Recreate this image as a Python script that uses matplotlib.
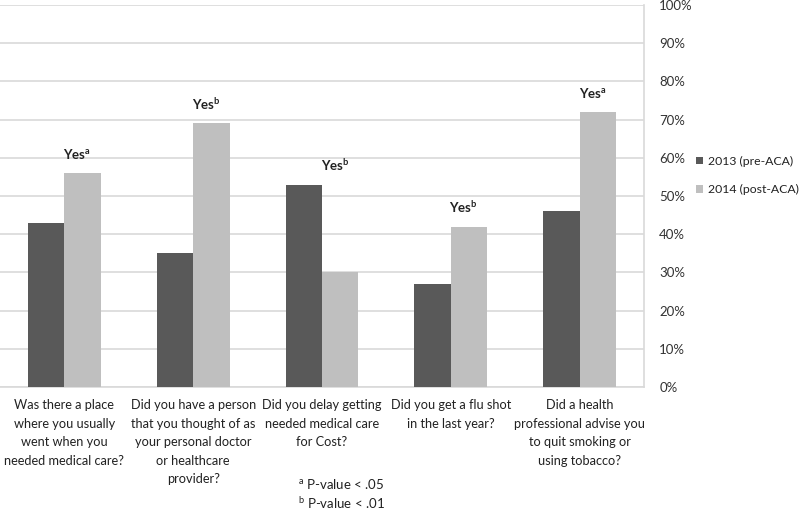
import numpy as np
import matplotlib
matplotlib.use("Agg")
import matplotlib.pyplot as plt

plt.rcParams['font.family'] = ['Lato', 'DejaVu Sans']
plt.rcParams['mathtext.fontset'] = 'custom'
plt.rcParams['mathtext.rm'] = 'Lato'
plt.rcParams['mathtext.bf'] = 'Lato:bold'

# --- data --- #
questions = [
    "Was there a place\nwhere you usually\nwent when you\nneeded medical care?",
    "Did you have a person\nthat you thought of as\nyour personal doctor\nor healthcare\nprovider?",
    "Did you delay getting\nneeded medical care\nfor Cost?",
    "Did you get a flu shot\nin the last year?",
    "Did a health\nprofessional advise you\nto quit smoking or\nusing tobacco?",
]
pre_aca = [43, 35, 53, 27, 46]     # 2013
post_aca = [56, 69, 30, 42, 72]    # 2014
sig_marks = ["a", "b", "b", "b", "a"]
footnotes = [r"$^{\mathrm{a}}$ P-value < .05", r"$^{\mathrm{b}}$ P-value < .01"]
series_names = ["2013 (pre-ACA)", "2014 (post-ACA)"]

dark = "#595959"
light = "#bfbfbf"
grid_c = "#d9d9d9"
txt_c = "#222222"

fig = plt.figure(figsize=(8, 5.21), dpi=100)
ax = fig.add_axes([0.0, 0.2572, 0.805, 0.7332])

x = np.arange(len(questions))
w = 0.283
b1 = ax.bar(x - w / 2, pre_aca, w, color=dark, label=series_names[0], zorder=3)
b2 = ax.bar(x + w / 2, post_aca, w, color=light, label=series_names[1], zorder=3)

ax.set_xlim(-0.5, len(questions) - 0.5)
ax.set_ylim(0, 100)
ax.set_yticks(np.arange(0, 101, 10))
ax.set_yticklabels([f"{v}%" for v in range(0, 101, 10)], fontsize=9.5, color="#333333")
ax.yaxis.tick_right()
ax.tick_params(axis='y', length=0, pad=11)
ax.tick_params(axis='x', length=0, pad=9)
ax.set_xticks(x)
ax.set_xticklabels(questions, fontsize=9.2, color=txt_c, linespacing=1.65)
ax.yaxis.grid(True, color=grid_c, linewidth=1.2, zorder=0)

for s in ['left', 'top']:
    ax.spines[s].set_visible(False)
for s in ['right', 'bottom']:
    ax.spines[s].set_color(grid_c)
    ax.spines[s].set_linewidth(1.2)

# significance labels above each pair
for i, m in enumerate(sig_marks):
    top = max(pre_aca[i], post_aca[i])
    ax.text(i + 0.1, top + 5, "Yes$^{\\mathbf{" + m + "}}$", ha='center', va='center',
            fontsize=9.5, fontweight='bold', color=txt_c)

fig.legend(handles=[b1, b2], labels=series_names, loc='center left',
           bbox_to_anchor=(0.87, 0.663), frameon=False, fontsize=8.8,
           handlelength=0.6, handleheight=0.6, handletextpad=0.4,
           labelspacing=1.45, labelcolor=txt_c, borderaxespad=0, borderpad=0)

fig.text(0.3725, 0.052, footnotes[0] + "\n" + footnotes[1], ha='left', va='center',
         fontsize=9.5, color=txt_c, linespacing=1.35)

fig.savefig("out.png", dpi=100)
